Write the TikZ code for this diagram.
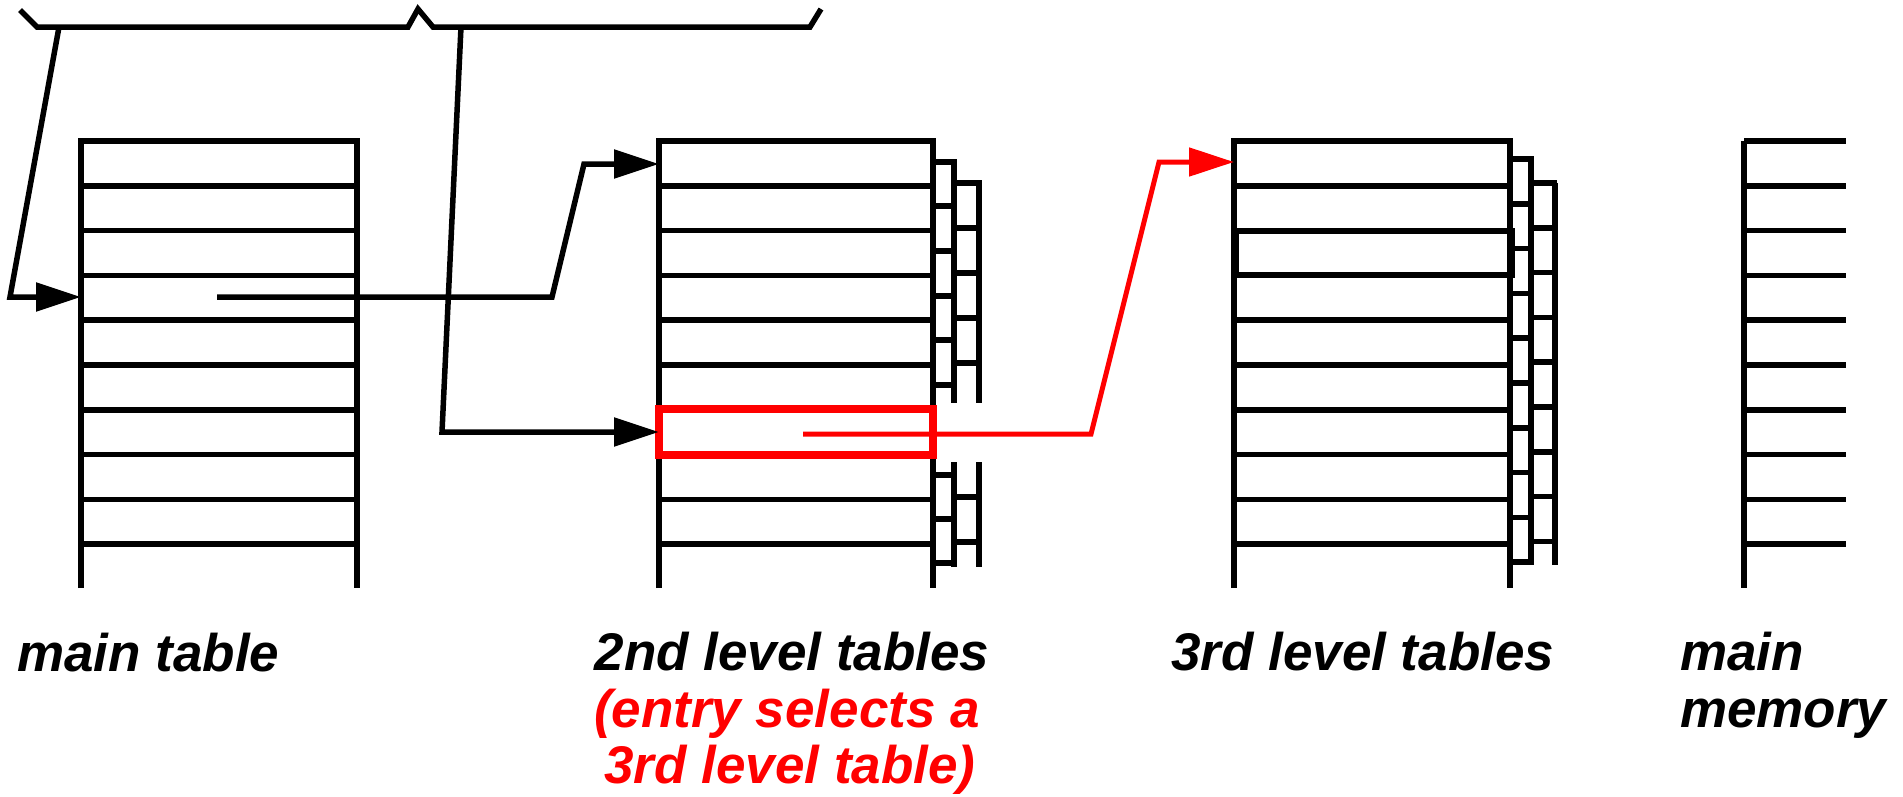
\documentclass[tikz,border=0pt]{standalone}
\usepackage{fontspec}
\setmainfont{Liberation Sans}
\usetikzlibrary{arrows.meta}
\begin{document}
\begin{tikzpicture}[x=1pt,y=-1pt,
  tbl/.style={line width=5.5pt, black},
  conn/.style={line width=5.5pt, -{Triangle[length=45pt,width=28pt]}},
  redconn/.style={line width=5pt, red, -{Triangle[length=45pt,width=28pt]}},
  selbox/.style={line width=8.5pt, red},
  lbl/.style={font=\fontsize{53}{57}\selectfont\bfseries\itshape, inner sep=0pt, anchor=base west},
]
\useasboundingbox (0,0) rectangle (1903,796);

% ---------- top bracket (virtual address fields) ----------
\draw[line width=5.5pt] (20,10) -- (37,27) -- (408,27) -- (418,9) -- (433,27) -- (810,27) -- (821,9);
\coordinate (brA) at (59,27);
\coordinate (brB) at (461,27);

% ---------- main table ----------
\draw[tbl] (81,588) -- (81,141) -- (357,141) -- (357,588);
\foreach \k in {1,...,9} \draw[tbl] (81,{141+44.8*\k}) -- (357,{141+44.8*\k});
\coordinate (mtin) at (81,297);
\coordinate (mtsrc) at (217,297);

% ---------- 2nd level tables ----------
\draw[tbl] (659,588) -- (659,141) -- (933,141) -- (933,588);
\foreach \k in {1,...,9} \draw[tbl] (659,{141+44.8*\k}) -- (933,{141+44.8*\k});
% stacked tables behind
\draw[tbl] (933,162) -- (954,162) -- (954,403);
\foreach \y in {206,251,296,340,385} \draw[tbl] (933,\y) -- (954,\y);
\draw[tbl] (954,183) -- (979,183) -- (979,403);
\foreach \y in {228,273,318,363} \draw[tbl] (954,\y) -- (979,\y);
\draw[tbl] (954,462) -- (954,567);
\foreach \y in {475,519} \draw[tbl] (933,\y) -- (954,\y);
\draw[tbl] (933,563) -- (954,563);
\draw[tbl] (979,462) -- (979,567);
\foreach \y in {497,542} \draw[tbl] (954,\y) -- (979,\y);
% selected entry
\draw[selbox] (659,409) rectangle (933,455);
\coordinate (t2top) at (659,164);
\coordinate (t2sel) at (659,432);
\coordinate (redsrc) at (803,434);

% ---------- 3rd level tables ----------
\draw[tbl] (1234,588) -- (1234,141) -- (1510,141) -- (1510,588);
\foreach \k in {1,...,9} \draw[tbl] (1234,{141+44.8*\k}) -- (1510,{141+44.8*\k});
\draw[tbl] (1236,231) rectangle (1512,275);
\draw[tbl] (1510,159) -- (1531,159) -- (1531,565);
\foreach \k in {1,...,9} \draw[tbl] (1510,{159+44.8*\k}) -- (1531,{159+44.8*\k});
\draw[tbl] (1531,183) -- (1557,183);
\draw[tbl] (1555,183) -- (1555,565);
\foreach \k in {1,...,8} \draw[tbl] (1531,{183+44.8*\k}) -- (1555,{183+44.8*\k});
\coordinate (t3top) at (1234,162);

% ---------- main memory ----------
\draw[tbl] (1744,141) -- (1744,588);
\foreach \k in {0,...,9} \draw[tbl] (1744,{141+44.8*\k}) -- (1846,{141+44.8*\k});

% ---------- connectors ----------
\draw[conn] (brA) -- (10,297) -- (mtin);
\draw[conn] (brB) -- (442,432) -- (t2sel);
\draw[conn] (mtsrc) -- (552,297) -- (584,164) -- (t2top);
\draw[redconn] (redsrc) -- (1091,434) -- (1159,162) -- (t3top);

% ---------- labels ----------
\node[lbl] (lmain) at (17,671) {main table};
\node[lbl, anchor=base] (l2a) at (792,670) {2nd level tables};
\node[lbl, anchor=base, text=red] (l2b) at (787,727) {(entry selects a};
\node[lbl, anchor=base, text=red] (l2c) at (790,783) {3rd level table)};
\node[lbl] (l3) at (1171,670) {3rd level tables};
\node[lbl] (lmm1) at (1680,670) {main};
\node[lbl] (lmm2) at (1680,727) {memory};
\end{tikzpicture}
\end{document}
